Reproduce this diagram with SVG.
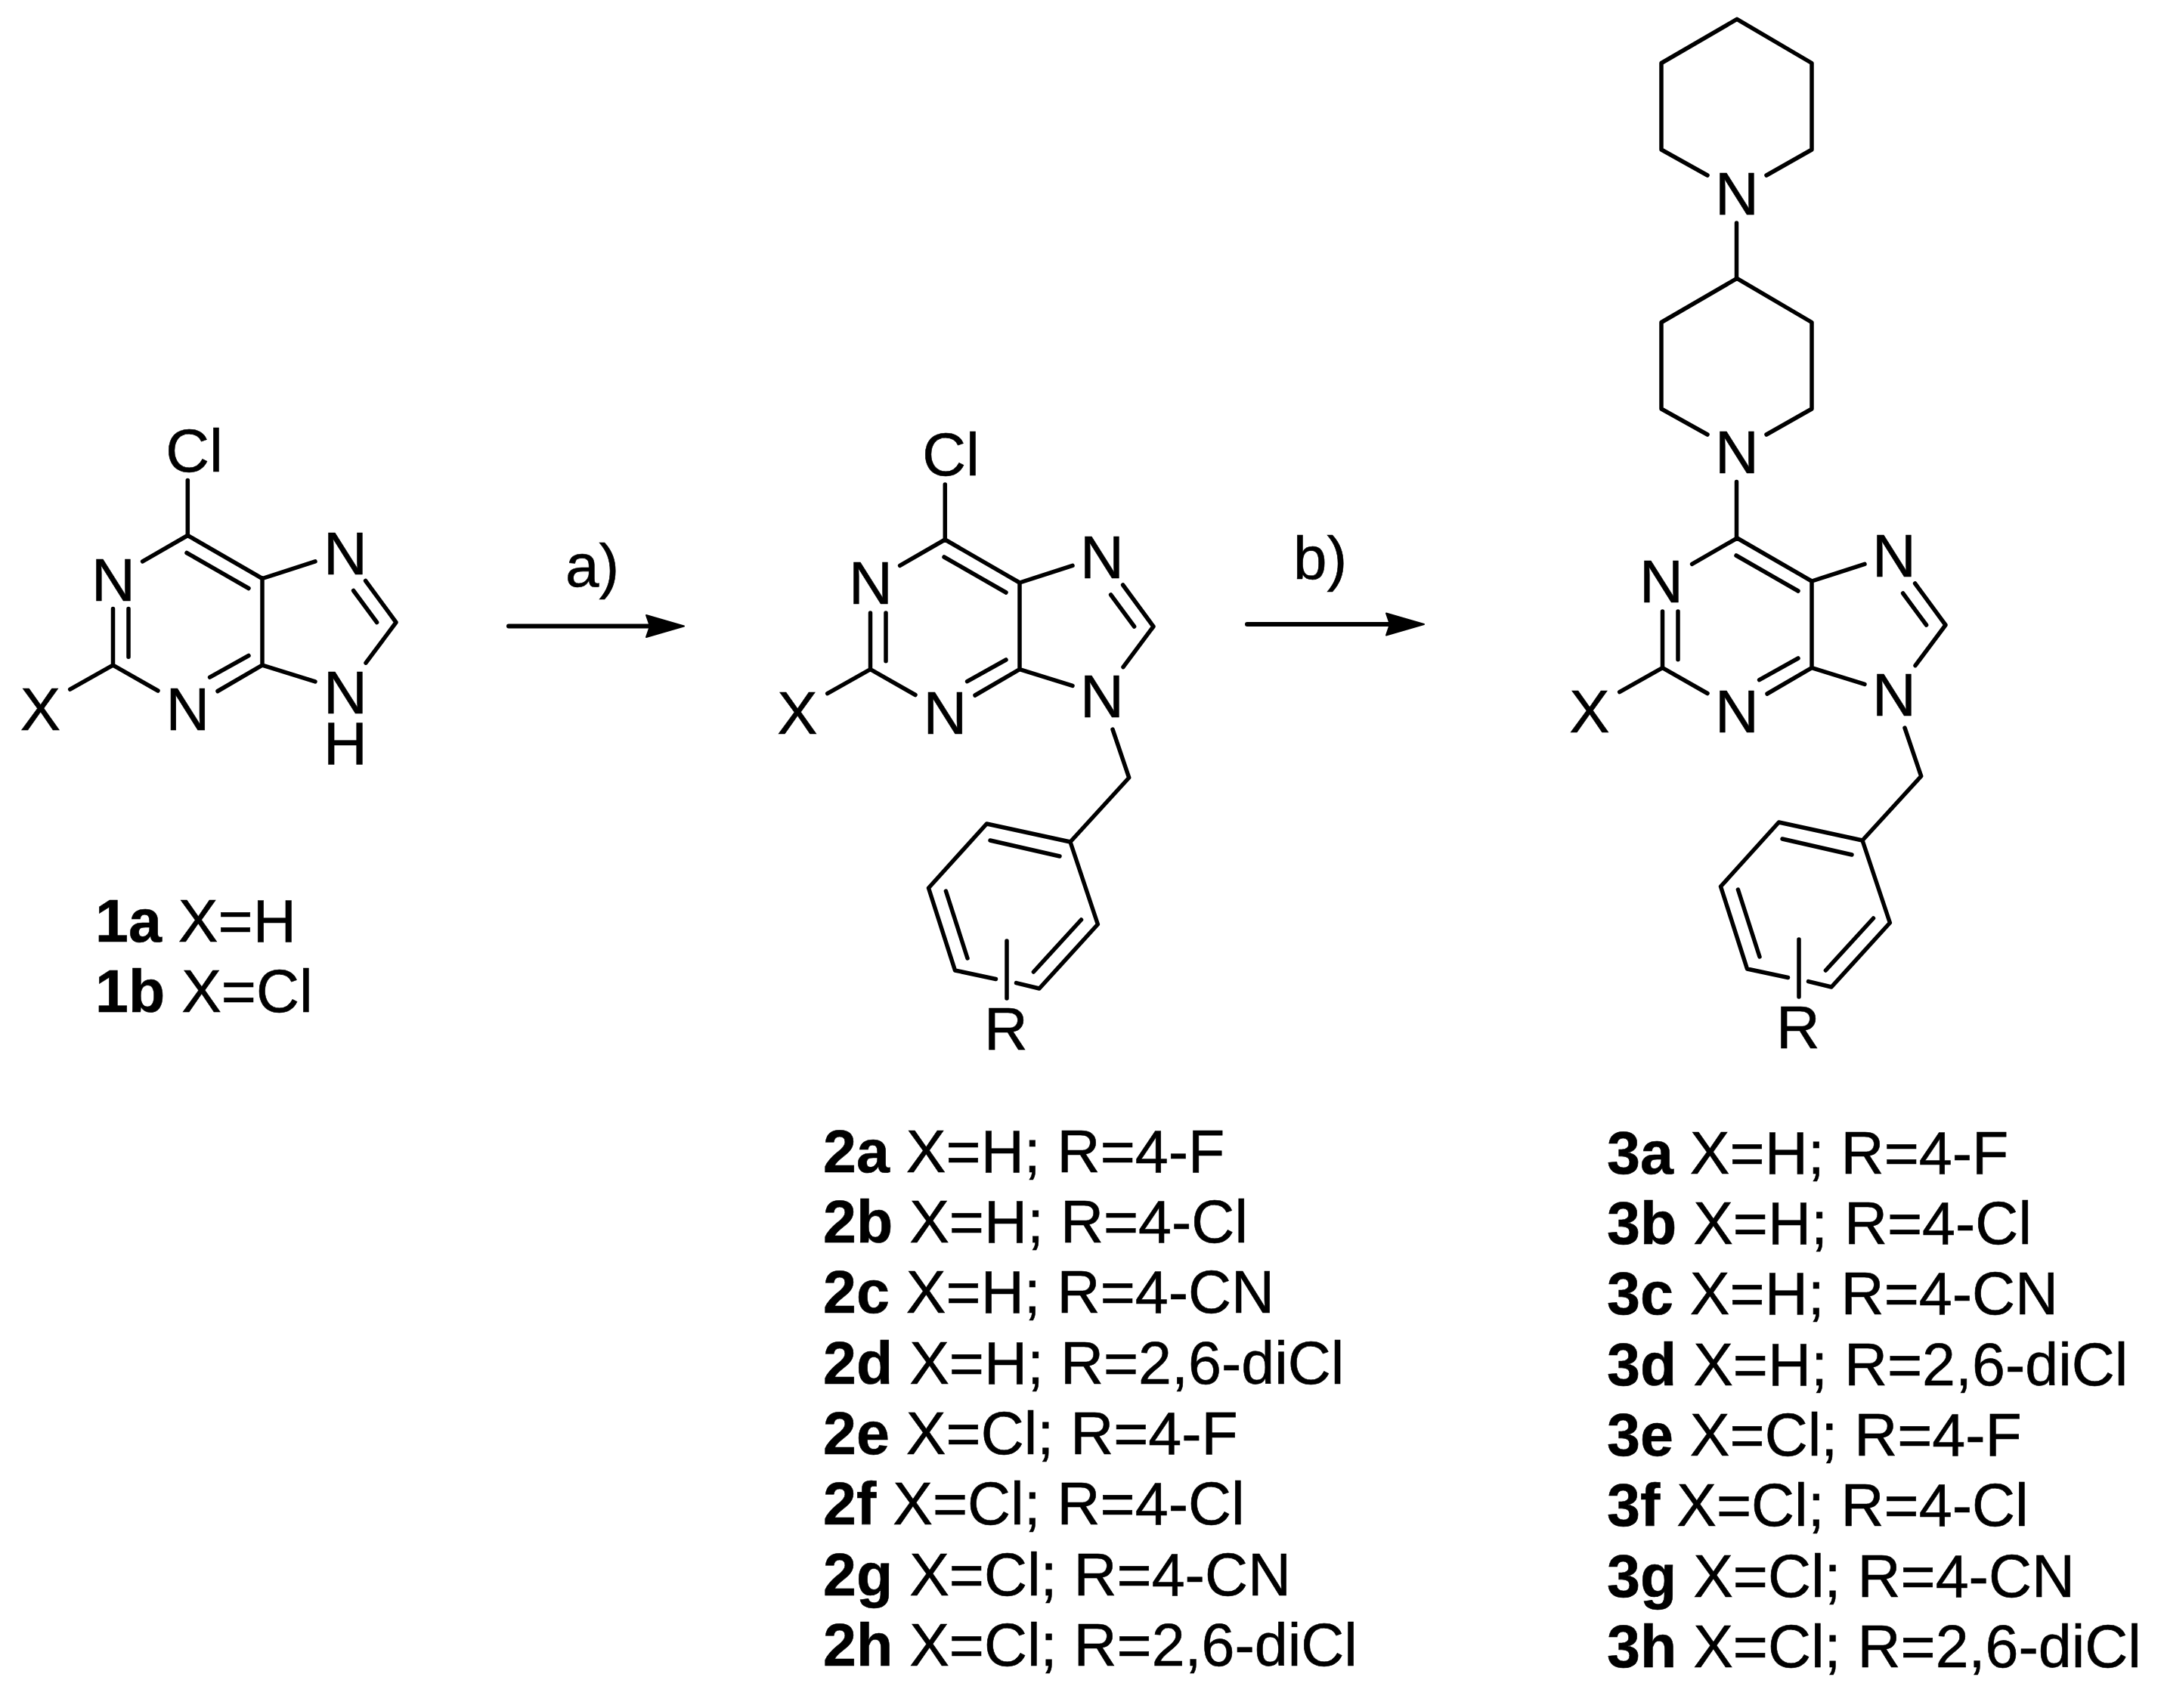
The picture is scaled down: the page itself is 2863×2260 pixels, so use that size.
<svg xmlns="http://www.w3.org/2000/svg" width="2863" height="2260" viewBox="0 0 2863 2260">
<style>
.b{fill:none;stroke:#000;stroke-width:5.5;stroke-linecap:round;stroke-linejoin:round}
.h{fill:#000;stroke:#000;stroke-width:2;stroke-linejoin:round}
text{font-family:"Liberation Sans",Arial,sans-serif;fill:#000;stroke:#000;stroke-width:.6}
.a{font-size:80px;text-anchor:middle}
.c{font-size:80px}
.l{font-size:79px}
.l tspan{font-weight:bold}
</style>
<defs>
<path id="purine" class="b" d="M1250.3 714L1349 771V885.6L1290 920M1250.3 714L1190.6 748.4M1249 737L1331 784M1151.5 885.6V811M1172 811V874.7M1151.5 885.6L1211 919.5M1151.5 885.6L1094.7 917.7M1331 873L1279.6 901.7M1349 771L1419 748.4M1349 885.6L1419 907.4M1485.6 774L1526 829L1486 882.7M1469.6 787L1500.6 829"/>
<path id="benzyl" class="b" d="M1472 965L1493.7 1029L1416 1114L1452.4 1223L1375 1308L1344.5 1300.6M1317.5 1295.5L1263.5 1284L1228.5 1175L1305.4 1090L1416 1114M1310 1112L1402 1133M1251.4 1179L1280 1268M1430.5 1217L1367.4 1286M1332 1245V1321"/>
<path id="piperidine" class="b" d="M2337 232L2397 198V83.5L2298 25.4L2198 83.5V198L2259 232"/>
</defs>
<g id="connectors">
<path class="b" style="stroke-width:6" d="M673 828.5H862"/>
<path class="h" d="M905 828.5L855 814L860 828.5L855 843Z"/>
<path class="b" style="stroke-width:6" d="M1650 826H1842"/>
<path class="h" d="M1884 826L1834 811.5L1839 826L1834 840.5Z"/>
<text class="c" x="748" y="776">a)</text>
<text class="c" x="1711" y="766">b)</text>
</g>
<g id="compound-1">
<g transform="translate(-1002 -5.5)"><use href="#purine"/><path class="b" d="M1250.3 641V714"/></g>
<text class="a" x="257" y="624">Cl</text>
<text class="a" x="150" y="795">N</text>
<text class="a" x="248.5" y="966">N</text>
<text class="a" x="53.5" y="966">X</text>
<text class="a" x="457" y="760">N</text>
<text class="a" x="457" y="944">N</text>
<text class="a" x="457" y="1010.5">H</text>
</g>
<g id="label-1">
<text class="l" x="126" y="1246"><tspan>1a</tspan> X=H</text>
<text class="l" x="126" y="1339"><tspan>1b</tspan> X=Cl</text>
</g>
<g id="compound-2">
<use href="#purine"/><use href="#benzyl"/><path class="b" d="M1250.3 641V714"/>
<text class="a" x="1258" y="629">Cl</text>
<text class="a" x="1152" y="799">N</text>
<text class="a" x="1250.5" y="971">N</text>
<text class="a" x="1055" y="971">X</text>
<text class="a" x="1458" y="765">N</text>
<text class="a" x="1458" y="949">N</text>
<text class="a" x="1331" y="1389">R</text>
</g>
<g id="label-2">
<text class="l" x="1089" y="1551"><tspan>2a</tspan> X=H; R=4-F</text>
<text class="l" x="1089" y="1644"><tspan>2b</tspan> X=H; R=4-Cl</text>
<text class="l" x="1089" y="1737"><tspan>2c</tspan> X=H; R=4-CN</text>
<text class="l" x="1089" y="1830.5"><tspan>2d</tspan> X=H; R=2,6-diCl</text>
<text class="l" x="1089" y="1924"><tspan>2e</tspan> X=Cl; R=4-F</text>
<text class="l" x="1089" y="2017"><tspan>2f</tspan> X=Cl; R=4-Cl</text>
<text class="l" x="1089" y="2111"><tspan>2g</tspan> X=Cl; R=4-CN</text>
<text class="l" x="1089" y="2204"><tspan>2h</tspan> X=Cl; R=2,6-diCl</text>
</g>
<g id="compound-3">
<g transform="translate(1048 -2)"><use href="#purine"/><use href="#benzyl"/></g>
<use href="#piperidine"/><use href="#piperidine" transform="translate(0 343)"/>
<path class="b" d="M2297.5 295V369M2297.5 637.5V712"/>
<text class="a" x="2298" y="283.5">N</text>
<text class="a" x="2298" y="626">N</text>
<text class="a" x="2198" y="797">N</text>
<text class="a" x="2298" y="969">N</text>
<text class="a" x="2103" y="969">X</text>
<text class="a" x="2506" y="763">N</text>
<text class="a" x="2506" y="947">N</text>
<text class="a" x="2379" y="1387">R</text>
</g>
<g id="label-3">
<text class="l" x="2126" y="1553"><tspan>3a</tspan> X=H; R=4-F</text>
<text class="l" x="2126" y="1646"><tspan>3b</tspan> X=H; R=4-Cl</text>
<text class="l" x="2126" y="1739"><tspan>3c</tspan> X=H; R=4-CN</text>
<text class="l" x="2126" y="1832.5"><tspan>3d</tspan> X=H; R=2,6-diCl</text>
<text class="l" x="2126" y="1926"><tspan>3e</tspan> X=Cl; R=4-F</text>
<text class="l" x="2126" y="2019"><tspan>3f</tspan> X=Cl; R=4-Cl</text>
<text class="l" x="2126" y="2113"><tspan>3g</tspan> X=Cl; R=4-CN</text>
<text class="l" x="2126" y="2206"><tspan>3h</tspan> X=Cl; R=2,6-diCl</text>
</g>
</svg>
